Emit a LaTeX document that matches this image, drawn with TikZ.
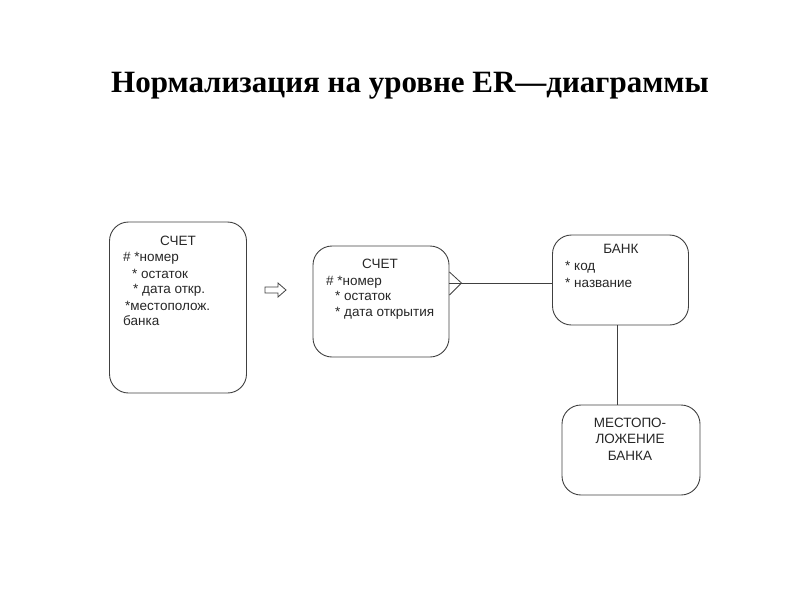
\documentclass[tikz,border=0pt]{standalone}
\usepackage{fontspec}
\usetikzlibrary{calc}
\setmainfont{Liberation Sans}
\newfontfamily\titlefont{Liberation Serif}
\begin{document}
\begin{tikzpicture}[x=1pt,y=-1pt,
  ent/.style={draw=black!75,line width=0.9pt,rounded corners=19pt},
  txt/.style={inner sep=0pt,anchor=base west,font=\fontsize{13.5}{15}\selectfont,text=black!85},
  ctxt/.style={inner sep=0pt,anchor=base,font=\fontsize{13.5}{15}\selectfont,text=black!85},
  conn/.style={draw=black!75,line width=0.8pt}]
\useasboundingbox (0,0) rectangle (800,600);
\node[inner sep=0pt,anchor=base,font=\titlefont\bfseries\fontsize{31}{34}\selectfont] (title) at (410,92) {Нормализация на уровне ER—диаграммы};
% box 1
\node[ent,minimum width=137pt,minimum height=171pt,inner sep=0pt] (old) at (178,307.5) {};
\node[ctxt] (s1) at (178,245) {СЧЕТ};
\node[txt] (s1a) at (123,261) {\# *номер};
\node[txt] (s1b) at (132,278) {* остаток};
\node[txt] (s1c) at (133,293) {* дата откр.};
\node[txt] (s1d) at (125,310) {*местополож.};
\node[txt] (s1e) at (123,325) {банка};
% arrow
\draw[black!75,line width=0.8pt,fill=white] (265,287) -- (278,287) -- (278,283) -- (286,290) -- (278,297) -- (278,293) -- (265,293) -- cycle;
% box 2
\node[ent,minimum width=136pt,minimum height=111pt,inner sep=0pt] (schet) at (381,301.5) {};
\node[ctxt] (s2) at (380,268) {СЧЕТ};
\node[txt] (s2a) at (326,285) {\# *номер};
\node[txt] (s2b) at (335,300) {* остаток};
\node[txt] (s2c) at (335,316) {* дата открытия};
% box 3
\node[ent,minimum width=136pt,minimum height=90pt,inner sep=0pt] (bank) at (620.5,280) {};
\node[ctxt] (b0) at (621,253) {БАНК};
\node[txt] (b1) at (565,270) {* код};
\node[txt] (b2) at (565,287) {* название};
% box 4
\node[ent,minimum width=138pt,minimum height=90pt,inner sep=0pt] (mesto) at (631,450) {};
\node[ctxt] (m1) at (630,427) {МЕСТОПО-};
\node[ctxt] (m2) at (630,443) {ЛОЖЕНИЕ};
\node[ctxt] (m3) at (630,460) {БАНКА};
% connectors
\coordinate (rel) at (schet.east |- 0,283);
\coordinate (foot) at ($(rel)+(12,0)$);
\draw[conn] (rel) -- (bank.west |- rel);
\draw[conn] ($(rel)+(0,-11)$) -- (foot) -- ($(rel)+(0,12)$);
\draw[conn] (bank.south -| 617,0) -- (mesto.north -| 617,0);
\end{tikzpicture}
\end{document}
